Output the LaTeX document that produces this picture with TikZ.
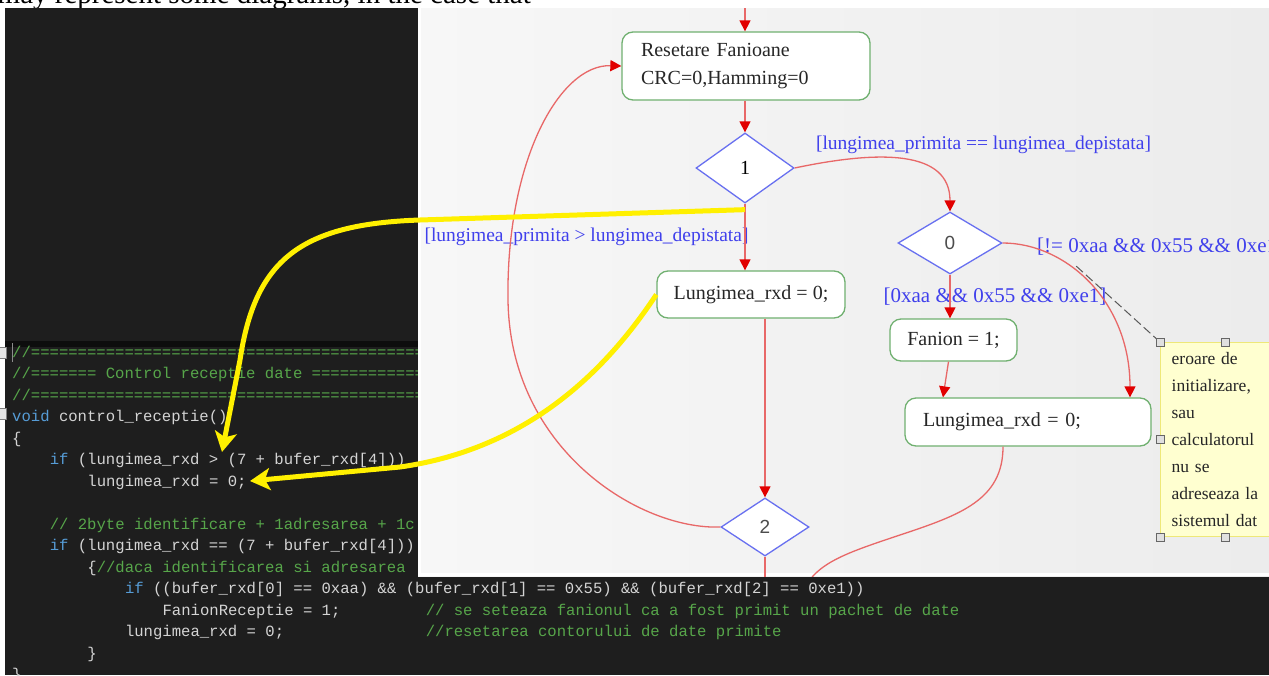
\documentclass[tikz,border=0pt]{standalone}
\usepackage{fontspec}
\setmainfont{Liberation Serif}
\newfontfamily\codefont{Liberation Mono}
\newfontfamily\digitfont{Liberation Sans}
\usetikzlibrary{arrows.meta,shapes.geometric}

\definecolor{cCODEBG}{RGB}{30,30,30}
\definecolor{cCODETXT}{RGB}{212,212,212}
\definecolor{cCOMMENT}{RGB}{87,166,74}
\definecolor{cKEYWORD}{RGB}{86,156,214}
\definecolor{cPANELL}{RGB}{247,247,247}
\definecolor{cPANELR}{RGB}{236,236,236}
\definecolor{cEDGE}{RGB}{232,104,104}
\definecolor{cTIP}{RGB}{225,0,0}
\definecolor{cBOX}{RGB}{112,176,112}
\definecolor{cDIAM}{RGB}{104,112,240}
\definecolor{cGUARD}{RGB}{64,64,236}
\definecolor{cNOTE}{RGB}{255,255,208}
\definecolor{cNOTEBORDER}{RGB}{238,232,120}
\definecolor{cMARK}{RGB}{255,240,0}

\tikzset{
  codetxt/.style={anchor=base west,inner sep=0pt,text=cCODETXT,font=\codefont\fontsize{15.6}{18}\selectfont},
  actbox/.style={rectangle,rounded corners=11pt,draw=cBOX,fill=white,line width=1.3pt,text=black!85,font=\fontsize{20}{28}\selectfont},
  decision/.style={diamond,draw=cDIAM,fill=white,line width=1.3pt,inner sep=0pt},
  guard/.style={text=cGUARD,inner sep=0pt,font=\fontsize{19.5}{24}\selectfont},
  flow/.style={draw=cEDGE,line width=1.3pt,-{Triangle[length=11pt,width=11pt,color=cTIP]}},
  flowcut/.style={draw=cEDGE,line width=1.3pt},
  notebox/.style={rectangle,draw=cNOTEBORDER,fill=cNOTE,line width=1.3pt,anchor=north west,align=left,
    inner xsep=11pt,inner ysep=7pt,text width=118pt,minimum height=194pt,text=black!85,font=\fontsize{17.5}{27}\selectfont},
  notelink/.style={draw=black!65,line width=1pt,dash pattern=on 9pt off 4pt},
  handle/.style={draw=black!60,fill=black!12,line width=1pt},
  marker/.style={draw=cMARK,line width=5pt,-{Stealth[length=20pt,width=22pt,inset=5pt]}},
}
\newcommand{\putcode}[4]{\node[codetxt] (#1) at ({12+#2*9.4},{357+#3*21.5}) {#4};}
\frenchspacing

\begin{document}
\begin{tikzpicture}[x=1pt,y=-1pt]
\useasboundingbox (0,0) rectangle (1269,675);
\fill[white] (0,0) rectangle (1269,675);
\node[anchor=base east,inner sep=0pt,font=\fontsize{29}{30}\selectfont] (lead) at (531,3.5) {may represent some diagrams, in the case that};
\fill[cCODEBG] (5,8) rectangle (418,675);
\fill[cCODEBG] (5,576) rectangle (1269,675);
\fill[black!95] (5,341) rectangle (418,347);
\draw[black!45,line width=1.2pt] (12.5,343) -- (12.5,362);
\draw[black!50,fill=black!10] (-3,347) rectangle (6,358);
\draw[black!50,fill=black!10] (-3,408) rectangle (6,419);
\putcode{c0}{0}{0}{\textcolor{cCOMMENT}{//===========================================}}
\putcode{c1}{0}{1}{\textcolor{cCOMMENT}{//======= Control receptie date =================}}
\putcode{c2}{0}{2}{\textcolor{cCOMMENT}{//===========================================}}
\putcode{c3}{0}{3}{\textcolor{cKEYWORD}{void} control\_receptie()}
\putcode{c4}{0}{4}{\{}
\putcode{c5}{4}{5}{\textcolor{cKEYWORD}{if} (lungimea\_rxd > (7 + bufer\_rxd[4]))}
\putcode{c6}{8}{6}{lungimea\_rxd = 0;}
\putcode{c8}{4}{8}{\textcolor{cCOMMENT}{// 2byte identificare + 1adresarea + 1c}}
\putcode{c9}{4}{9}{\textcolor{cKEYWORD}{if} (lungimea\_rxd == (7 + bufer\_rxd[4]))}
\putcode{c10}{8}{10}{\{\textcolor{cCOMMENT}{//daca identificarea si adresarea}}
\putcode{c11}{12}{11}{\textcolor{cKEYWORD}{if} ((bufer\_rxd[0] == 0xaa) \&\& (bufer\_rxd[1] == 0x55) \&\& (bufer\_rxd[2] == 0xe1))}
\putcode{c12}{16}{12}{FanionReceptie = 1;}
\putcode{c12n}{44}{12}{\textcolor{cCOMMENT}{// se seteaza fanionul ca a fost primit un pachet de date}}
\putcode{c13}{12}{13}{lungimea\_rxd = 0;}
\putcode{c13n}{44}{13}{\textcolor{cCOMMENT}{//resetarea contorului de date primite}}
\putcode{c14}{8}{14}{\}}
\putcode{c15}{0}{15}{\}}
\begin{scope}
\clip (418,8) rectangle (1269,576);
\shade[left color=cPANELL,right color=cPANELR] (418,8) rectangle (1269,576);
\draw[white,line width=2.5pt] (419.5,8) -- (419.5,574.5) -- (1269,574.5);
\node[actbox,align=left,text width=210pt,inner xsep=19pt,minimum height=68pt] (reset) at (746,66) {Resetare Fanioane\\CRC=0,Hamming=0};
\node[decision,minimum width=98pt,minimum height=70pt,font=\fontsize{20}{22}\selectfont] (d1) at (745,168) {1};
\node[actbox,minimum width=188pt,minimum height=47pt] (len1) at (751,294.5) {Lungimea\_rxd = 0;};
\node[decision,minimum width=88pt,minimum height=58pt,text=black!70,font=\digitfont\fontsize{19}{22}\selectfont] (d2) at (765,527) {2};
\node[decision,minimum width=104pt,minimum height=62pt,text=black!70,font=\digitfont\fontsize{19}{22}\selectfont] (d0) at (950,243) {0};
\node[actbox,minimum width=127pt,minimum height=42pt] (fanion) at (953.5,340) {Fanion = 1;};
\node[actbox,align=left,text width=210pt,inner xsep=18pt,minimum height=48pt] (len2) at (1028,422) {Lungimea\_rxd = 0;};
\node[guard] (gEq) at (983.5,145) {[lungimea\_primita == lungimea\_depistata]};
\node[guard] (gGt) at (586.5,237) {[lungimea\_primita > lungimea\_depistata]};
\node[guard,anchor=west,font=\fontsize{21}{24}\selectfont] (gNe) at (1037,247) {[!= 0xaa \&\& 0x55 \&\& 0xe1]};
\node[guard,font=\fontsize{21}{24}\selectfont] (gOk) at (995,297) {[0xaa \&\& 0x55 \&\& 0xe1]};
\coordinate (entry) at (745,8);
\coordinate (d2exit) at (765,600);
\coordinate (len2exit) at (800,600);
\draw[flow] (entry) -- (entry |- reset.north);
\draw[flow] (d1.north |- reset.south) -- (d1.north);
\draw[flow] (d1.east) .. controls (880,150) and (950,150) .. (d0.north);
\draw[flow] (d1.south) -- (d1.south |- len1.north);
\draw[flow] (d2.north |- len1.south) -- (d2.north);
\draw[flowcut] (d2.south) -- (d2exit);
\draw[flow] (d2.west) .. controls (640,530) and (510,450) .. (508,300) .. controls (506,160) and (560,64) .. (reset.west);
\draw[flow] (d0.east) .. controls (1065,243) and (1130,300) .. ([xshift=102pt]len2.north);
\draw[flow] (d0.south) -- (d0.south |- fanion.north);
\draw[flow] ([xshift=-5pt]fanion.south) -- ([xshift=-85pt]len2.north);
\draw[flowcut] ([xshift=-25pt]len2.south) .. controls (1003,500) and (960,515) .. (900,535) .. controls (840,555) and (810,565) .. (len2exit);
\node[notebox] (note) at (1160,342) {eroare de\\initializare,\\sau\\calculatorul\\nu se\\adreseaza la\\sistemul dat};
\coordinate (notelink) at (1075,265);
\draw[notelink] (note.north west) -- (notelink);
\foreach \p in {note.north west,note.west,note.south west}
  \draw[handle] (\p) +(-4,-4) rectangle +(4,4);
\draw[handle] ([xshift=65pt]note.north west) +(-4,-4) rectangle +(4,4);
\draw[handle] ([xshift=65pt]note.south west) +(-4,-4) rectangle +(4,4);
\end{scope}
\coordinate (tipA) at (222,452);
\coordinate (tipB) at (250,481);
\draw[marker] ([yshift=-6pt]d1.south) -- (420,220) .. controls (300,224) and (255,260) .. (240,360) -- (tipA);
\draw[marker] (len1.west) .. controls (600,380) and (520,450) .. (400,467) -- (tipB);
\end{tikzpicture}
\end{document}
